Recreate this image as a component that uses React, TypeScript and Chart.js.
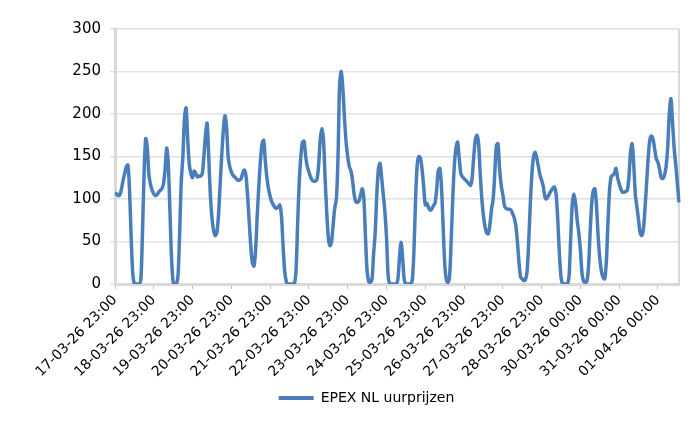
import React, { useEffect, useRef } from "react";
import { Chart, registerables } from "chart.js";

Chart.register(...registerables);

const seriesName = "EPEX NL uurprijzen";

const tickLabels = [
  "17-03-26 23:00",
  "18-03-26 23:00",
  "19-03-26 23:00",
  "20-03-26 23:00",
  "21-03-26 23:00",
  "22-03-26 23:00",
  "23-03-26 23:00",
  "24-03-26 23:00",
  "25-03-26 23:00",
  "26-03-26 23:00",
  "27-03-26 23:00",
  "28-03-26 23:00",
  "30-03-26 00:00",
  "31-03-26 00:00",
  "01-04-26 00:00",
];

// hourly prices, one array per 24-hour tick interval
const day00 = [107, 106, 104, 105, 112, 122, 130, 138, 140, 110, 55, 12, 0, 0, 0, 0, 5, 60, 130, 171, 160, 128, 117, 110];
const day01 = [106, 104, 105, 108, 110, 112, 118, 135, 160, 140, 85, 30, 2, 0, 0, 10, 60, 120, 150, 195, 207, 170, 140, 130];
const day02 = [125, 133, 130, 126, 127, 127, 130, 150, 175, 189, 150, 105, 78, 63, 57, 60, 80, 115, 150, 180, 198, 185, 150, 138];
const day03 = [132, 128, 126, 124, 122, 122, 124, 130, 134, 128, 105, 75, 45, 25, 21, 40, 80, 115, 145, 165, 169, 145, 125, 112];
const day04 = [103, 97, 93, 90, 89, 91, 93, 80, 45, 15, 3, 0, 0, 0, 0, 0, 15, 70, 120, 150, 167, 168, 150, 138];
const day05 = [132, 126, 122, 121, 121, 123, 140, 170, 183, 170, 125, 85, 55, 45, 50, 70, 90, 100, 150, 235, 250, 230, 195, 167];
const day06 = [150, 138, 133, 122, 105, 97, 96, 98, 105, 112, 100, 55, 15, 3, 2, 5, 35, 60, 105, 135, 142, 125, 105, 85];
const day07 = [55, 10, 0, 0, 0, 0, 0, 5, 30, 49, 30, 5, 0, 0, 0, 0, 5, 40, 100, 140, 150, 148, 135, 115];
const day08 = [93, 95, 90, 87, 88, 92, 95, 110, 133, 136, 115, 70, 25, 5, 2, 8, 50, 100, 140, 160, 167, 148, 130, 126];
const day09 = [124, 122, 120, 118, 116, 125, 150, 170, 175, 165, 130, 100, 80, 67, 60, 59, 70, 88, 100, 130, 163, 165, 135, 116];
const day10 = [105, 92, 89, 88, 88, 87, 83, 78, 69, 50, 25, 8, 6, 4, 5, 15, 50, 95, 130, 150, 155, 148, 138, 128];
const day11 = [122, 115, 103, 100, 103, 107, 110, 113, 114, 105, 75, 35, 8, 0, 0, 0, 0, 10, 55, 95, 106, 95, 75, 60];
const day12 = [40, 12, 3, 2, 3, 20, 60, 95, 110, 112, 90, 55, 30, 15, 8, 6, 25, 70, 110, 126, 128, 130, 136, 125];
const day13 = [118, 112, 108, 108, 109, 110, 125, 155, 165, 140, 105, 90, 75, 60, 57, 65, 90, 120, 150, 170, 174, 170, 158, 147];
const day14 = [143, 135, 125, 124, 128, 138, 160, 200, 218, 190, 160, 140, 118, 96];

const prices = [
  ...day00, ...day01, ...day02, ...day03, ...day04, ...day05, ...day06, ...day07,
  ...day08, ...day09, ...day10, ...day11, ...day12, ...day13, ...day14,
];

const yMin = 0;
const yMax = 300;
const yStep = 50;
const hoursPerTick = 24;

const LINE_COLOR = "#4a7ebb";
const FONT = "'DejaVu Sans', sans-serif";

const plotBorder = {
  id: "plotBorder",
  beforeDatasetsDraw(chart: any) {
    const { ctx, chartArea } = chart;
    ctx.save();
    ctx.strokeStyle = "#d9d9d9";
    ctx.lineWidth = 2;
    ctx.beginPath();
    ctx.moveTo(chartArea.right, chartArea.top);
    ctx.lineTo(chartArea.right, chartArea.bottom);
    ctx.stroke();
    ctx.restore();
  },
};

export default function App() {
  const ref = useRef<HTMLCanvasElement>(null);

  useEffect(() => {
    document.body.style.margin = "0";
    const canvas = ref.current;
    if (!canvas) return;
    const labels = prices.map((_, i) =>
      i % hoursPerTick === 0 ? tickLabels[i / hoursPerTick] : ""
    );
    const chart = new Chart(canvas, {
      type: "line",
      data: {
        labels,
        datasets: [
          {
            label: seriesName,
            data: prices,
            borderColor: LINE_COLOR,
            backgroundColor: LINE_COLOR,
            borderWidth: 3.5,
            pointRadius: 0,
            tension: 0.3,
            fill: false,
          },
        ],
      },
      options: {
        responsive: false,
        animation: false,
        devicePixelRatio: 1,
        layout: { padding: { left: 54, top: 29, right: 21, bottom: 15 } },
        plugins: {
          tooltip: { enabled: false },
          legend: {
            position: "bottom",
            labels: {
              color: "#000",
              font: { family: FONT, size: 14 },
              boxWidth: 35,
              boxHeight: 4,
              padding: 10,
              generateLabels: (c: any) =>
                Chart.defaults.plugins.legend.labels
                  .generateLabels(c)
                  .map((it: any) => ({ ...it, lineWidth: 0, fillStyle: LINE_COLOR })),
            },
          },
        },
        scales: {
          x: {
            type: "category",
            offset: false,
            afterFit: (scale: any) => {
              scale.height = 97;
            },
            grid: {
              display: true,
              drawOnChartArea: false,
              drawTicks: true,
              tickLength: 5,
              color: "#bfbfbf",
              lineWidth: 1,
            },
            border: { display: true, color: "#d9d9d9", width: 3 },
            ticks: {
              autoSkip: false,
              maxRotation: 45,
              minRotation: 45,
              padding: 3,
              color: "#000",
              font: { family: FONT, size: 14 },
              callback: (_v: any, idx: number) =>
                idx % hoursPerTick === 0 ? tickLabels[idx / hoursPerTick] : null,
            },
          },
          y: {
            min: yMin,
            max: yMax,
            afterFit: (scale: any) => {
              scale.width = 61;
            },
            grid: {
              color: "#e0e0e0",
              lineWidth: 1.5,
              drawTicks: true,
              tickLength: 5,
            },
            border: { display: true, color: "#d9d9d9", width: 3 },
            ticks: {
              stepSize: yStep,
              padding: 9,
              color: "#000",
              font: { family: FONT, size: 15 },
            },
          },
        },
      },
      plugins: [plotBorder],
    });
    return () => chart.destroy();
  }, []);

  return (
    <div style={{ width: 700, height: 430 }}>
      <canvas ref={ref} width={700} height={430} />
    </div>
  );
}
